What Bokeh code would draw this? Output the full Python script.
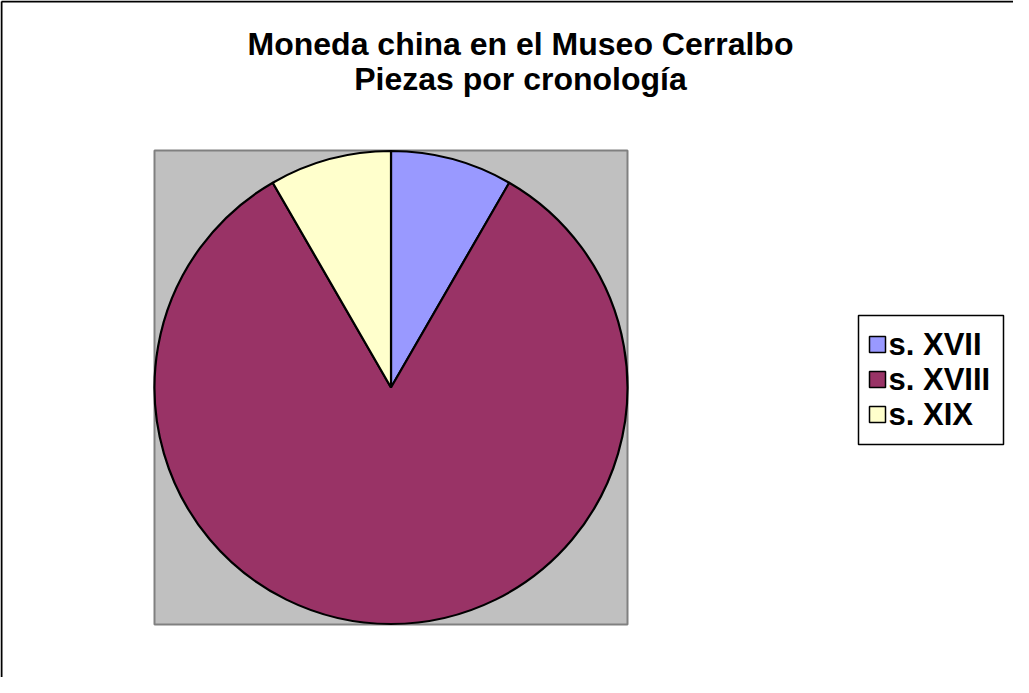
import numpy as np
from bokeh.plotting import figure
from bokeh.models import ColumnDataSource, Range1d
from bokeh.embed import file_html
from bokeh.resources import INLINE
from bokeh.core.properties import value

# ---- data ----
categories = ["s. XVII", "s. XVIII", "s. XIX"]
counts = [1, 10, 1]
colors = ["#9999FF", "#993366", "#FFFFCC"]
title_lines = ["Moneda china en el Museo Cerralbo", "Piezas por cronología"]

W, H = 1013, 677


def X(px):
    return px - 8


def Y(py):
    return 685 - py


p = figure(width=W, height=H, x_range=Range1d(0, W), y_range=Range1d(0, H),
           output_backend="svg", toolbar_location=None, min_border=0)
p.axis.visible = False
p.grid.visible = False
p.outline_line_color = None
p.background_fill_color = "white"
p.border_fill_color = "white"

# chart frame (only top/left visible)
p.segment(x0=[X(9), X(9)], y0=[Y(9), Y(9)], x1=[X(1040), X(9)], y1=[Y(9), Y(700)],
          line_color="black", line_width=2)

# plot area
p.quad(left=[X(162)], right=[X(635)], top=[Y(158)], bottom=[Y(632)],
       fill_color="#C0C0C0", line_color="#808080", line_width=2)

# pie
cx, cy, R = X(398.5), Y(395), 236.5
fr = np.array(counts, dtype=float) / sum(counts)
cum = np.concatenate([[0.0], np.cumsum(fr)])
src = ColumnDataSource(dict(
    cat=categories, color=colors,
    start=np.pi / 2 - 2 * np.pi * cum[:-1],
    end=np.pi / 2 - 2 * np.pi * cum[1:],
))
p.wedge(x=cx, y=cy, radius=R, start_angle="start", end_angle="end",
        direction="clock", fill_color="color", line_color="black",
        line_width=2.2, source=src)

# title
p.text(x=[X(528)] * 2, y=[Y(51), Y(86)], text=title_lines,
       text_align="center", text_baseline="middle",
       text_font=value("Liberation Sans"), text_font_style="bold",
       text_font_size="32px", text_color="black")

# legend
p.quad(left=[X(866)], right=[X(1011)], top=[Y(323)], bottom=[Y(452)],
       fill_color="white", line_color="black", line_width=1.5)
ly = [Y(352), Y(387), Y(422)]
lsrc = ColumnDataSource(dict(x=[X(885)] * 3, tx=[X(896)] * 3, y=ly,
                             color=colors, cat=categories))
p.rect(x="x", y="y", width=16, height=16, fill_color="color",
       line_color="black", line_width=1.5, source=lsrc)
p.text(x="tx", y="y", text="cat", text_align="left", text_baseline="middle",
       text_font=value("Liberation Sans"), text_font_style="bold",
       text_font_size="31px", text_color="black", source=lsrc)

open("out.html", "w").write(file_html(p, INLINE))
